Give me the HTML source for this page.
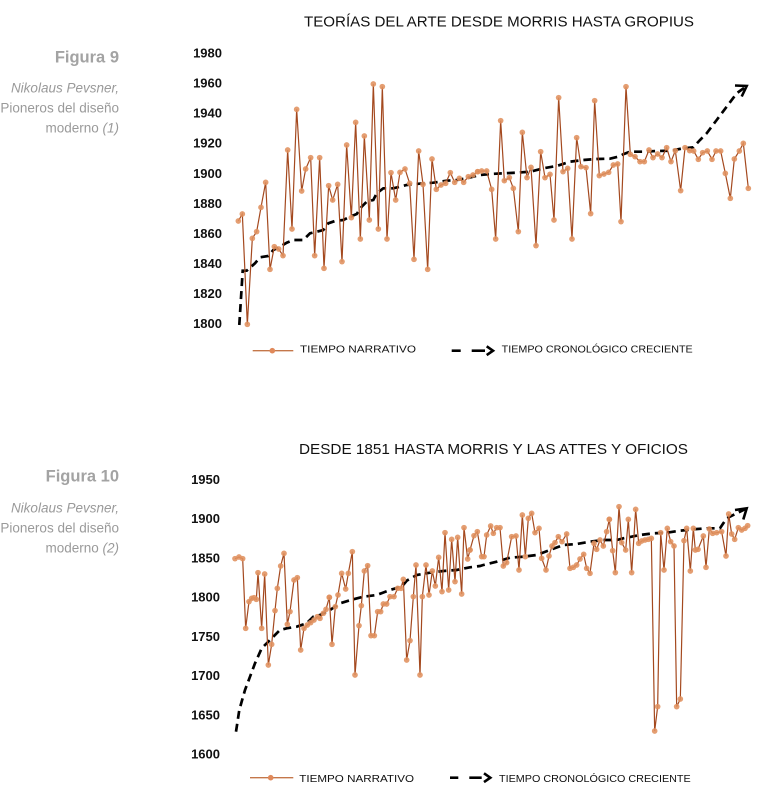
<!DOCTYPE html>
<html><head><meta charset="utf-8"><style>
html,body{margin:0;padding:0;background:#fff;}
svg{display:block;}
text{font-family:"Liberation Sans",sans-serif;}
</style></head><body>
<svg width="770" height="799" viewBox="0 0 770 799" xmlns="http://www.w3.org/2000/svg">
<defs>
<marker id="m" viewBox="0 0 20 20" refX="10" refY="10" markerWidth="20" markerHeight="20" markerUnits="userSpaceOnUse">
<circle cx="10" cy="10" r="8.5" fill="#E0915F" fill-opacity="0.88"/>
</marker>
</defs>

<!-- LEFT CAPTIONS -->
<text x="119" y="62.3" text-anchor="end" font-size="16.5" font-weight="bold" fill="#A3A3A3">Figura 9</text>
<text x="119" y="92.7" text-anchor="end" font-size="13.5" font-style="italic" fill="#9A9A9A">Nikolaus Pevsner,</text>
<text x="119" y="112.7" text-anchor="end" font-size="13.5" fill="#9A9A9A">Pioneros del diseño</text>
<text x="119" y="132.7" text-anchor="end" font-size="13.5" fill="#9A9A9A">moderno <tspan font-style="italic">(1)</tspan></text>

<text x="119" y="481.7" text-anchor="end" font-size="16.5" font-weight="bold" fill="#A3A3A3">Figura 10</text>
<text x="119" y="512.7" text-anchor="end" font-size="13.5" font-style="italic" fill="#9A9A9A">Nikolaus Pevsner,</text>
<text x="119" y="532.7" text-anchor="end" font-size="13.5" fill="#9A9A9A">Pioneros del diseño</text>
<text x="119" y="552.3" text-anchor="end" font-size="13.5" fill="#9A9A9A">moderno <tspan font-style="italic">(2)</tspan></text>

<!-- CHART 1 -->
<text x="304" y="26.7" font-size="15" fill="#111" textLength="390" lengthAdjust="spacingAndGlyphs">TEORÍAS DEL ARTE DESDE MORRIS HASTA GROPIUS</text>
<g font-size="13" font-weight="bold" fill="#111" text-anchor="end">
<text x="222" y="57.5">1980</text>
<text x="222" y="87.6">1960</text>
<text x="222" y="117.6">1940</text>
<text x="222" y="147.7">1920</text>
<text x="222" y="177.8">1900</text>
<text x="222" y="207.8">1880</text>
<text x="222" y="237.9">1860</text>
<text x="222" y="268">1840</text>
<text x="222" y="298">1820</text>
<text x="222" y="328">1800</text>
</g>

<path d="M239.3,325 L242.7,270.7 L246.7,270.7 L255,263.3 L260,257.3 L268.3,256 L273.3,250 L280,246.7 L286.7,242.7 L293.3,240 L303.3,240 L310,233.3 L316.7,231.7 L323.3,230 L328.3,223.3 L335,221 L343.3,220 L350,216.7 L356.7,214 L361.7,206.7 L366.7,201.7 L373.3,200 L376.7,193.3 L383.3,188.3 L393.3,188.3 L400,186.7 L406.7,185 L413.3,184.3 L423.3,183.3 L433.3,182.7 L446.7,180.7 L456.7,180 L466.7,178.3 L480,175 L490,174 L503.3,173.3 L516.7,172.7 L530,171.7 L543.3,168.3 L556.7,166 L570,161.7 L583.3,160 L596.7,159 L610,158.7 L618.3,156.7 L623.3,154.3 L630,151.7 L643.3,151.7 L656.7,151 L670,150.7 L683.3,148.3 L693.3,147.3 L700,140 L706.7,133.3 L716.7,120 L726.7,106.7 L736.7,93.3 L746.7,86" fill="none" stroke="#000" stroke-width="2.7" stroke-dasharray="8,5"/>
<polyline points="735,85.5 746.7,86 741.7,96.5" fill="none" stroke="#000" stroke-width="2.6" stroke-linejoin="miter"/>

<g transform="translate(180,60) scale(0.33333)">
<polyline fill="none" stroke="#A4491F" stroke-width="3.6" marker-start="url(#m)" marker-mid="url(#m)" marker-end="url(#m)" points="175,483 187,462 202,793 217,535 230,515 243,442 257,367 270,628 283,560 296,567 309,587 323,270 336,507 350,148 365,393 377,327 392,293 404,587 419,293 432,625 446,377 458,420 473,373 486,605 500,255 514,473 527,187 541,537 553,228 568,480 580,72 595,507 607,80 621,537 633,338 647,420 660,337 675,327 689,370 702,598 716,273 729,373 743,628 756,297 769,388 783,375 797,370 811,338 824,367 838,355 851,367 865,350 879,345 893,335"/>
</g>
<g transform="translate(470,60) scale(0.33333)">
<polyline fill="none" stroke="#A4491F" stroke-width="3.6" marker-start="url(#m)" marker-mid="url(#m)" marker-end="url(#m)" points="23,335 35,333 50,333 65,388 77,537 92,182 103,362 118,353 130,385 145,515 157,217 171,353 183,322 198,557 212,275 225,353 240,343 252,480 266,113 279,335 293,325 306,537 320,233 333,320 348,323 362,461 374,122 388,347 402,342 416,337 430,315 443,312 453,485 468,80 481,283 495,290 510,305 523,305 537,270 549,293 563,282 576,293 590,263 603,305 616,272 632,392 645,263 659,272 671,273 685,298 698,278 712,273 726,298 738,273 752,273 766,340 781,415 793,297 808,273 820,250 835,385"/>
</g>

<!-- Legend 1 -->
<line x1="252.7" y1="350.7" x2="293.3" y2="350.7" stroke="#C4774A" stroke-width="1.4"/>
<circle cx="272.3" cy="350.7" r="2.8" fill="#E0895A"/>
<text x="300" y="352.7" font-size="10.5" fill="#111" textLength="116" lengthAdjust="spacingAndGlyphs">TIEMPO NARRATIVO</text>
<line x1="451.7" y1="350.7" x2="460.7" y2="350.7" stroke="#000" stroke-width="2.6"/>
<line x1="471.7" y1="350.7" x2="485" y2="350.7" stroke="#000" stroke-width="2.6"/>
<polyline points="486.7,346.3 493,350.7 486.7,355.1" fill="none" stroke="#000" stroke-width="2.6"/>
<text x="501.7" y="352.7" font-size="10.5" fill="#111" textLength="191" lengthAdjust="spacingAndGlyphs">TIEMPO CRONOLÓGICO CRECIENTE</text>

<!-- CHART 2 -->
<text x="299" y="454" font-size="15" fill="#111" textLength="389" lengthAdjust="spacingAndGlyphs">DESDE 1851 HASTA MORRIS Y LAS ATTES Y OFICIOS</text>
<g font-size="13" font-weight="bold" fill="#111" text-anchor="end">
<text x="220" y="484">1950</text>
<text x="220" y="523.2">1900</text>
<text x="220" y="562.5">1850</text>
<text x="220" y="601.7">1800</text>
<text x="220" y="640.9">1750</text>
<text x="220" y="680.1">1700</text>
<text x="220" y="719.4">1650</text>
<text x="220" y="758.6">1600</text>
</g>

<path d="M236,731.7 L239.3,710 L245,690 L250,676.7 L255,663.3 L261.7,648.3 L270,640 L280,630 L286.7,628.3 L296.7,626.7 L306.7,623.3 L313.3,616.7 L320,615 L330,610 L340,603.3 L353.3,599.3 L363.3,596.7 L376.7,595 L390,590 L401.7,586.7 L406.7,580.7 L416.7,575 L430,572.7 L443.3,571 L456.7,570 L470,567.3 L480,566 L483.3,565 L496.7,561.7 L510,557.7 L523.3,556.7 L536.7,555 L550,550 L563.3,545 L576.7,544 L590,541.7 L603.3,540 L616.7,540 L623.3,538.3 L640,535 L653.3,533.3 L666.7,532.7 L680,530.7 L693.3,529.3 L706.7,528.3 L720,528.3 L723.3,523.3 L726.7,518.3 L736.7,513.3 L746.7,508.3" fill="none" stroke="#000" stroke-width="2.7" stroke-dasharray="8,5"/>
<polyline points="735,510 746.7,508.3 743.3,519.5" fill="none" stroke="#000" stroke-width="2.6"/>

<g transform="translate(180,460) scale(0.33333)">
<polyline fill="none" stroke="#A4491F" stroke-width="3.6" marker-start="url(#m)" marker-mid="url(#m)" marker-end="url(#m)" points="165,296 177,291 188,296 197,505 207,425 215,415 222,413 229,418 234,338 245,505 254,342 265,615 275,553 285,452 292,385 302,318 312,280 322,493 330,455 342,360 352,353 362,570 372,505 382,495 392,488 402,480 412,470 420,475 430,460 438,448 448,412"/>
</g>
<g transform="translate(330,460) scale(0.33333)">
<polyline fill="none" stroke="#A4491F" stroke-width="3.6" marker-start="url(#m)" marker-mid="url(#m)" marker-end="url(#m)" points="-2,412 6,553 16,440 24,405 35,340 47,387 55,340 67,275 75,645 87,497 94,437 103,333 113,317 123,527 133,527 143,455 152,455 160,432 170,432 180,410 192,410 203,385 213,385 220,358 230,600 240,542 250,410 258,315 270,645 277,410 288,315 297,405 307,333 316,378 326,292 336,395 345,218 356,390 365,238 375,365 383,232 395,402 402,203 413,297 420,270"/>
</g>
<g transform="translate(470,460) scale(0.33333)">
<polyline fill="none" stroke="#A4491F" stroke-width="3.6" marker-start="url(#m)" marker-mid="url(#m)" marker-end="url(#m)" points="0,270 12,227 22,215 35,290 42,290 50,225 62,198 70,220 80,203 90,203 100,318 110,308 125,230 138,228 147,330 157,165 166,290 175,175 185,160 195,218 207,205 215,295 228,330 237,288 246,258 255,248 265,230 276,245 290,222 300,325 310,322 320,315 330,297 341,283 350,325 360,340 372,250 380,268 390,240 400,258 410,215 418,178"/>
</g>
<g transform="translate(610,460) scale(0.33333)">
<polyline fill="none" stroke="#A4491F" stroke-width="3.6" marker-start="url(#m)" marker-mid="url(#m)" marker-end="url(#m)" points="-2,178 8,272 16,338 27,140 35,248 47,270 55,178 65,338 77,148 86,250 95,243 105,240 115,238 124,235 134,813 143,740 152,218 162,330 172,205 182,245 192,258 200,740 211,717 222,242 230,205 241,333 250,205 256,270 264,268 280,228 288,322 298,207 308,220 320,218 335,215 348,288 356,162 365,222 374,238 385,203 395,210 405,205 413,197"/>
</g>

<!-- Legend 2 -->
<line x1="250" y1="777.7" x2="293.3" y2="777.7" stroke="#C4774A" stroke-width="1.4"/>
<circle cx="270.7" cy="777.7" r="2.8" fill="#E0895A"/>
<text x="299.3" y="782" font-size="10.5" fill="#111" textLength="114.7" lengthAdjust="spacingAndGlyphs">TIEMPO NARRATIVO</text>
<line x1="450" y1="777.7" x2="458.3" y2="777.7" stroke="#000" stroke-width="2.6"/>
<line x1="469.3" y1="777.7" x2="481.7" y2="777.7" stroke="#000" stroke-width="2.6"/>
<polyline points="484,773.3 490.3,777.7 484,782.1" fill="none" stroke="#000" stroke-width="2.6"/>
<text x="499" y="782" font-size="10.5" fill="#111" textLength="191.7" lengthAdjust="spacingAndGlyphs">TIEMPO CRONOLÓGICO CRECIENTE</text>
</svg>
</body></html>
